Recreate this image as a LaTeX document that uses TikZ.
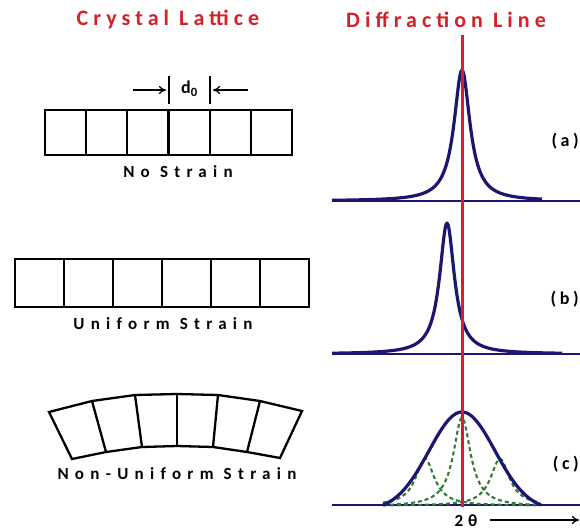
\documentclass[tikz,border=0pt]{standalone}
\usepackage{fontspec}
\setmainfont{Carlito}
\usetikzlibrary{arrows.meta}
\definecolor{tred}{RGB}{212,32,40}
\definecolor{navy}{RGB}{28,22,112}
\definecolor{dgreen}{RGB}{50,122,55}
\tikzset{
 titletext/.style={text=tred, font=\fontsize{22}{24}\selectfont\bfseries\addfontfeature{LetterSpace=23}},
 labtext/.style={font=\fontsize{17}{19}\selectfont\bfseries\addfontfeature{LetterSpace=37}},
 tagtext/.style={anchor=east, inner sep=0.5pt, font=\fontsize{18}{20}\selectfont\bfseries\addfontfeature{LetterSpace=20}},
 cell/.style={draw=black, line width=2.3pt, line join=miter},
 curve/.style={draw=navy, line width=3.2pt, line join=round},
 baseln/.style={draw=navy, line width=2.5pt},
 redln/.style={draw=tred, line width=3pt},
 gdash/.style={draw=dgreen, line width=2.1pt, dash pattern=on 4pt off 3pt},
 bar/.style={draw=black, line width=2pt},
 pointer/.style={draw=black, line width=1.3pt, -{To[length=7pt,width=8pt]}},
}
\begin{document}
\begin{tikzpicture}[x=1pt,y=-1pt]
\useasboundingbox (0,0) rectangle (580,530);
% titles
\node[titletext] (t1) at (168,19) {Crystal Lattice};
\node[titletext] (t2) at (446,20) {Diffraction Line};
% lattice (a)
\draw[cell] (45,110) rectangle (292,155);
\foreach \i in {1,...,5} \draw[cell] (45+\i*41.17,110) -- (45+\i*41.17,155);
\node[labtext] (l1) at (178,172) {No Strain};
% d0 marker
\draw[bar] (169,76) -- (169,104);
\draw[bar] (210,76) -- (210,104);
\node[font=\fontsize{18}{20}\selectfont\bfseries] (d0) at (189.5,89) {d\textsubscript{0}};
\coordinate (pl) at (133,90);
\coordinate (pr) at (248,90);
\coordinate (pla) at (166,90);
\coordinate (pra) at (213,90);
\draw[pointer] (pl) -- (pla);
\draw[pointer] (pr) -- (pra);
% lattice (b)
\draw[cell] (15,259) rectangle (309,307);
\foreach \i in {1,...,5} \draw[cell] (15+\i*49,259) -- (15+\i*49,307);
\node[labtext] (l2) at (163,324) {Uniform Strain};
% lattice (c)
\draw[cell] (49,412) -- (92,401) -- (135,395) -- (177,394) -- (218,395) -- (260,401) -- (302,411)
  -- (280,458) -- (247,452) -- (213,447) -- (177,446) -- (142,447) -- (106,452) -- (72,459) -- cycle;
\draw[cell] (92,401) -- (106,452);
\draw[cell] (135,395) -- (142,447);
\draw[cell] (177,394) -- (177,446);
\draw[cell] (218,395) -- (213,447);
\draw[cell] (260,401) -- (247,452);
\node[labtext] (l3) at (177,474) {Non-Uniform Strain};
% panel (a)
\draw[baseln] (332,201) -- (580,201);
\draw[curve] plot[domain=332:542, samples=241, smooth] (\x, {201 - 131/(1+((\x-462)/9.7)^2)});
\node[tagtext] (pa) at (579.5,141) {(a)};
% panel (b)
\draw[baseln] (332,354) -- (580,354);
\draw[curve] plot[domain=332:562, samples=241, smooth] (\x, {354 - 131/(1+((\x-447)/9)^2)});
\node[tagtext] (pb) at (579.5,299) {(b)};
% panel (c)
\draw[baseln] (332,505) -- (580,505);
\draw[gdash] plot[domain=383:540, samples=161, smooth] (\x, {505 - 89*(1/(1+((\x-462)/10.5)^2) - 0.0175)});
\draw[gdash] plot[domain=383:540, samples=161, smooth] (\x, {505 - 47*(1/(1+((\x-425)/11.5)^2) - 0.017)});
\draw[gdash] plot[domain=383:540, samples=161, smooth] (\x, {505 - 47*(1/(1+((\x-500)/11.5)^2) - 0.017)});
\draw[curve] plot[domain=383:541, samples=161, smooth] (\x, {505 - 93*(exp(-((\x-462)/33)^2/2) - 0.057)/0.943});
\node[tagtext] (pc) at (579.5,464) {(c)};
% red line
\draw[redln] (462,35) -- (462,507);
% axis label
\node[font=\fontsize{17}{19}\selectfont\bfseries\addfontfeature{LetterSpace=28}] (tt) at (466,521) {2θ};
\coordinate (ax1) at (490,520);
\coordinate (ax2) at (579,520);
\draw[pointer] (ax1) -- (ax2);
\end{tikzpicture}
\end{document}
